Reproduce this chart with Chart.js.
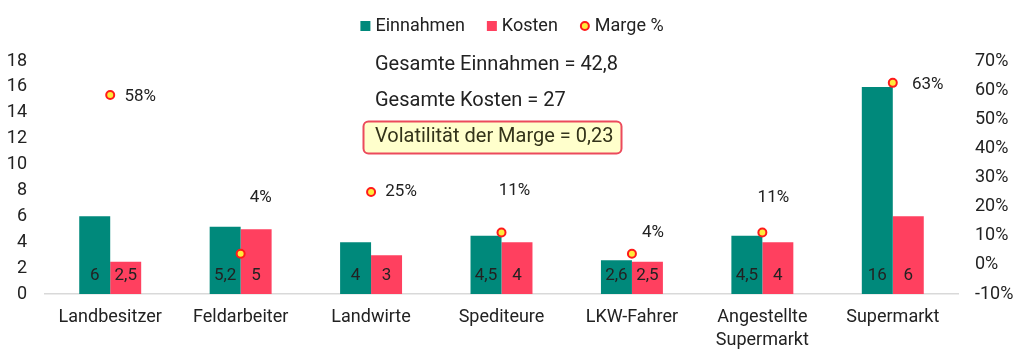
<!DOCTYPE html>
<html>
<head>
<meta charset="utf-8">
<script src="https://cdn.jsdelivr.net/npm/chart.js@4.4.1/dist/chart.umd.min.js"></script>
<style>
html, body { margin: 0; padding: 0; background: #fff; }
#wrap { width: 1024px; height: 361px; }
</style>
</head>
<body>
<div id="wrap"><canvas id="chart"></canvas></div>
<script>
const categories = ["Landbesitzer", "Feldarbeiter", "Landwirte", "Spediteure", "LKW-Fahrer", ["Angestellte", "Supermarkt"], "Supermarkt"];
const einnahmen = [6, 5.2, 4, 4.5, 2.6, 4.5, 16];
const kosten = [2.5, 5, 3, 4, 2.5, 4, 6];
const marge = [58.3, 3.8, 25, 11.1, 3.8, 11.1, 62.5];
const summaryLines = ["Gesamte Einnahmen = 42,8", "Gesamte Kosten = 27"];
const highlightLine = "Volatilität der Marge = 0,23";

// where each marge label sits relative to its point (dx, dy)
const margeLabelOffsets = [[30, 2], [20, -56], [30, 0], [13, -42], [21, -21], [11, -35], [35, 2]];

const TEAL = "#00897b";
const PINK = "#ff405f";
const FONT = "Roboto, 'DejaVu Sans', sans-serif";

Chart.defaults.font.family = FONT;
Chart.defaults.color = "#222";

const fmt = v => String(v).replace(".", ",");

/* LABELS, NOTES, LEGEND */
const extras = {
    id: "extras",
    afterDatasetsDraw(chart) {
        const ctx = chart.ctx;
        const zero = chart.scales.y.getPixelForValue(0);
        ctx.save();
        ctx.fillStyle = "#222";
        ctx.textAlign = "center";
        ctx.textBaseline = "middle";
        ctx.font = "17px " + FONT;
        [0, 1].forEach(d => {
            chart.getDatasetMeta(d).data.forEach((el, i) => {
                ctx.fillText(fmt(chart.data.datasets[d].data[i]), el.x, zero - 18);
            });
        });
        chart.getDatasetMeta(2).data.forEach((el, i) => {
            const off = margeLabelOffsets[i];
            ctx.fillText(Math.round(marge[i]) + "%", el.x + off[0], el.y + off[1]);
        });

        // totals
        ctx.textAlign = "left";
        ctx.font = "20px " + FONT;
        ctx.fillText(summaryLines[0], 375, 65);
        ctx.fillText(summaryLines[1], 375, 101);

        ctx.beginPath();
        ctx.roundRect(363.5, 121.5, 258, 32, 5);
        ctx.fillStyle = "#ffffcc";
        ctx.fill();
        ctx.lineWidth = 2;
        ctx.strokeStyle = "#ec4a5c";
        ctx.stroke();
        ctx.fillStyle = "#33331a";
        ctx.fillText(highlightLine, 375, 137);

        // legend
        ctx.font = "18px " + FONT;
        ctx.fillStyle = "#222";
        const items = chart.data.datasets.map(ds => ds.label);
        const widths = items.map(t => 10 + 5 + ctx.measureText(t).width);
        const gap = 22;
        let x = chart.width / 2 - (widths.reduce((a, b) => a + b, 0) + gap * (items.length - 1)) / 2;
        const ly = 26;
        chart.data.datasets.forEach((ds, i) => {
            if (ds.type === "line") {
                ctx.beginPath();
                ctx.arc(x + 5, ly, 4, 0, Math.PI * 2);
                ctx.fillStyle = ds.backgroundColor;
                ctx.fill();
                ctx.lineWidth = 2;
                ctx.strokeStyle = ds.borderColor;
                ctx.stroke();
            } else {
                ctx.fillStyle = ds.backgroundColor;
                ctx.fillRect(x, ly - 5, 10, 10);
            }
            ctx.fillStyle = "#222";
            ctx.fillText(ds.label, x + 15, ly);
            x += widths[i] + gap;
        });
        ctx.restore();
    }
};

new Chart(document.getElementById("chart"), {
    type: "bar",
    data: {
        labels: categories,
        datasets: [
            { label: "Einnahmen", data: einnahmen, backgroundColor: TEAL, yAxisID: "y", order: 1,
              categoryPercentage: 0.475, barPercentage: 1 },
            { label: "Kosten", data: kosten, backgroundColor: PINK, yAxisID: "y", order: 1,
              categoryPercentage: 0.475, barPercentage: 1 },
            { label: "Marge %", type: "line", data: marge, yAxisID: "y1", order: 0, showLine: false,
              pointRadius: 4, pointHoverRadius: 4, borderWidth: 2,
              backgroundColor: "#ffeb3b", borderColor: "#ff1a1a" }
        ]
    },
    options: {
        responsive: true,
        maintainAspectRatio: false,
        animation: false,
        layout: { padding: { top: 61, left: 0, right: 0, bottom: 0 } },
        plugins: { legend: { display: false }, tooltip: { enabled: false } },
        scales: {
            x: {
                grid: { display: false, drawTicks: false },
                border: { display: true, color: "#d9d9d9", width: 1.5 },
                ticks: { padding: 12, font: { size: 18, lineHeight: 1.28 }, maxRotation: 0, autoSkip: false },
                afterFit: s => { s.height = 67; }
            },
            y: {
                position: "left", min: 0, max: 18,
                grid: { display: false, drawTicks: false },
                border: { display: false },
                ticks: { stepSize: 2, padding: 18, font: { size: 18 } },
                afterFit: s => { s.width = 45; }
            },
            y1: {
                position: "right", min: -10, max: 70,
                grid: { display: false, drawTicks: false },
                border: { display: false },
                ticks: { stepSize: 10, padding: 17, font: { size: 18 }, callback: v => v + "%" },
                afterFit: s => { s.width = 66; }
            }
        }
    },
    plugins: [extras]
});
</script>
</body>
</html>
